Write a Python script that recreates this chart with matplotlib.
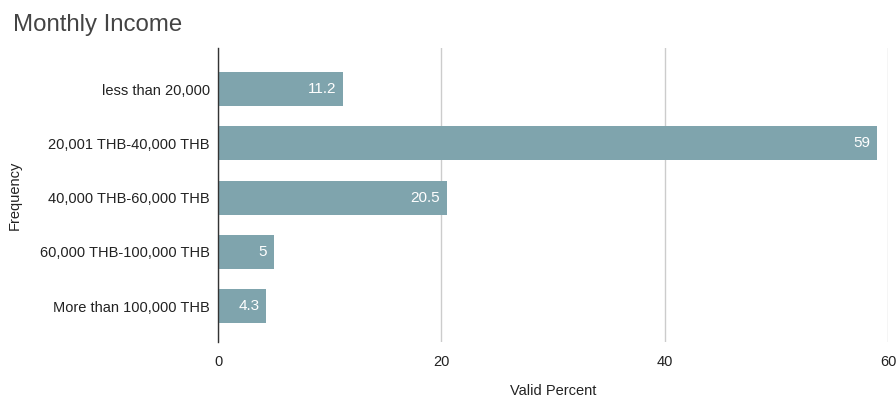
import matplotlib
matplotlib.use("Agg")
import matplotlib.pyplot as plt

categories = ["less than 20,000", "20,001 THB-40,000 THB", "40,000 THB-60,000 THB",
              "60,000 THB-100,000 THB", "More than 100,000 THB"]
values = [11.2, 59, 20.5, 5, 4.3]
value_labels = ["11.2", "59", "20.5", "5", "4.3"]
xticks = [0, 20, 40, 60]

plt.rcParams['font.family'] = ['Liberation Sans', 'DejaVu Sans']

fig = plt.figure(figsize=(8.96, 3.98), dpi=100)
ax = fig.add_axes([218/896, 1-342/398, (888-218)/896, (342-48)/398])

color = "#7fa4ad"
ypos = list(range(len(categories)))
bars = ax.barh(ypos, values, height=0.63, color=color, zorder=3)
for b, lab in zip(bars, value_labels):
    w = b.get_width()
    ax.text(w - 0.6, b.get_y() + b.get_height()/2, lab, ha='right', va='center',
            color='white', fontsize=11, zorder=4)

ax.set_xlim(0, 60)
ax.set_ylim(len(categories) - 1 + 0.66, -0.756)
ax.set_yticks(ypos)
ax.set_yticklabels(categories, fontsize=10.5, color='#222222')
ax.set_xticks(xticks)
ax.set_xticklabels([str(t) for t in xticks], fontsize=10.5, color='#222222')
ax.tick_params(axis='y', length=0, pad=6)
ax.tick_params(axis='x', length=0, pad=9)
ax.grid(axis='x', color='#cccccc', linewidth=1, zorder=0)
for s in ['top', 'right', 'bottom']:
    ax.spines[s].set_visible(False)
ax.spines['left'].set_color('#333333')
ax.spines['left'].set_linewidth(1)
ax.spines['left'].set_zorder(5)

ax.set_xlabel("Valid Percent", fontsize=10.5, color='#222222')
ax.xaxis.set_label_coords(0.5, -0.143, transform=ax.transAxes)
ax.set_ylabel("Frequency", fontsize=10.5, color='#222222')
ax.yaxis.set_label_coords(-0.2925, 0.5, transform=ax.transAxes)
fig.text(13/896, 1-25/398, "Monthly Income", fontsize=17.3, color='#444444', va='center', ha='left')

fig.savefig("out.png", dpi=100)
